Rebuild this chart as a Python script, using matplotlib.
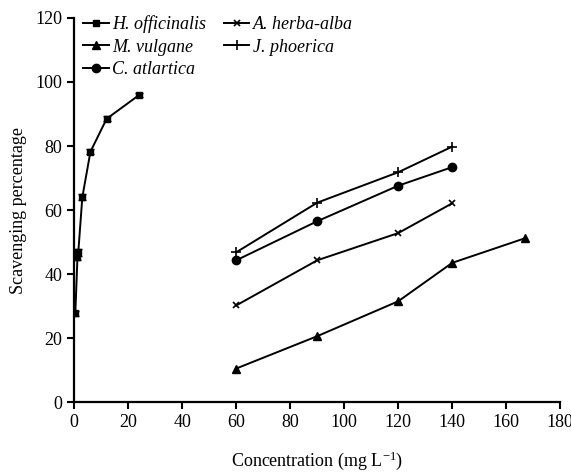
import matplotlib
matplotlib.use("Agg")
import matplotlib.pyplot as plt

plt.rcParams['font.family'] = ['Liberation Serif', 'DejaVu Serif']
plt.rcParams['mathtext.fontset'] = 'custom'
plt.rcParams['mathtext.rm'] = 'Liberation Serif'
plt.rcParams['mathtext.it'] = 'Liberation Serif:italic'

h_x = [0.4, 1.2, 1.5, 3, 6, 12, 24]
h_y = [27.7, 45.3, 46.8, 64.0, 78.2, 88.5, 95.9]
h_err = [0.8, 1.0, 1.0, 1.0, 0.8, 0.8, 0.7]

m_x = [60, 90, 120, 140, 167]
m_y = [10.5, 20.6, 31.5, 43.5, 51.2]

c_x = [60, 90, 120, 140]
c_y = [44.3, 56.5, 67.6, 73.4]

a_x = [60, 90, 120, 140]
a_y = [30.2, 44.3, 52.8, 62.1]

j_x = [60, 90, 120, 140]
j_y = [46.8, 62.3, 71.8, 79.8]

fig = plt.figure(figsize=(5.71, 4.72), dpi=100)
ax = fig.add_axes([0.13, 0.148, 0.851, 0.814])

lw = 1.4
hh, = ax.plot(h_x, h_y, color='black', lw=lw, marker='s', ms=5, label='H. officinalis')
ax.errorbar(h_x, h_y, yerr=h_err, fmt='none', ecolor='black', elinewidth=1, capsize=3)
mh, = ax.plot(m_x, m_y, color='black', lw=lw, marker='^', ms=6, label='M. vulgane')
ch, = ax.plot(c_x, c_y, color='black', lw=lw, marker='o', ms=6, label='C. atlartica')
ah, = ax.plot(a_x, a_y, color='black', lw=lw, marker='x', ms=5, mew=1.2, label='A. herba-alba')
jh, = ax.plot(j_x, j_y, color='black', lw=lw, marker='+', ms=7, mew=1.2, label='J. phoerica')

ax.set_xlim(0, 180)
ax.set_ylim(0, 120)
ax.set_xticks(range(0, 181, 20))
ax.set_yticks(range(0, 121, 20))
ax.spines['top'].set_visible(False)
ax.spines['right'].set_visible(False)
for s in ['left', 'bottom']:
    ax.spines[s].set_linewidth(1.6)
ax.tick_params(direction='out', width=1.5, length=5, labelsize=13)

ax.set_xlabel('Concentration (mg L$^{-1}$)', fontsize=13, labelpad=13)
ax.set_ylabel('Scavenging percentage', fontsize=13, labelpad=6)

leg = ax.legend(handles=[hh, mh, ch, ah, jh], loc='upper left', ncol=2, frameon=False,
                prop={'style': 'italic', 'size': 13}, handlelength=1.4, handletextpad=0.2,
                columnspacing=1.0, labelspacing=0.3, borderaxespad=0.1,
                bbox_to_anchor=(0.0, 1.03))

fig.savefig('out.png', dpi=100)
